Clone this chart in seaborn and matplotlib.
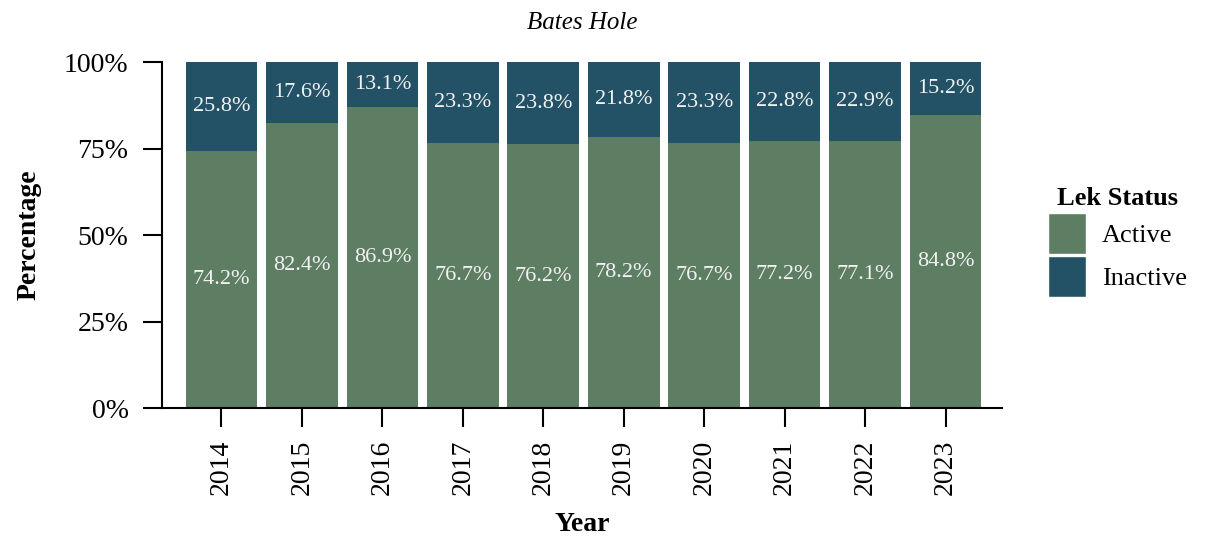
import pandas as pd
import seaborn as sns
import matplotlib.pyplot as plt
from matplotlib.patches import Patch
from matplotlib.ticker import PercentFormatter

years = ['2014', '2015', '2016', '2017', '2018', '2019', '2020', '2021', '2022', '2023']
active = [74.2, 82.4, 86.9, 76.7, 76.2, 78.2, 76.7, 77.2, 77.1, 84.8]
inactive = [25.8, 17.6, 13.1, 23.3, 23.8, 21.8, 23.3, 22.8, 22.9, 15.2]

ACTIVE_COL = '#5e7e64'
INACTIVE_COL = '#235266'

df = pd.DataFrame({'Year': years, 'Active': active, 'Inactive': inactive})
df['Total'] = df['Active'] + df['Inactive']

sns.set_style('ticks')
plt.rcParams['font.family'] = ['Liberation Serif', 'DejaVu Serif']
plt.rcParams['text.color'] = 'black'
plt.rcParams['axes.labelcolor'] = 'black'
plt.rcParams['xtick.color'] = 'black'
plt.rcParams['ytick.color'] = 'black'
plt.rcParams['axes.edgecolor'] = 'black'

fig = plt.figure(figsize=(12.05, 5.44), dpi=100)
ax = fig.add_axes([0.1344, 0.25, 0.697, 0.636])

# stacked bars: full height in inactive colour, active drawn over it
sns.barplot(data=df, x='Year', y='Total', color=INACTIVE_COL, saturation=1, width=0.89,
            linewidth=0, ax=ax)
sns.barplot(data=df, x='Year', y='Active', color=ACTIVE_COL, saturation=1, width=0.89,
            linewidth=0, ax=ax)

for i, row in df.iterrows():
    ax.text(i, row['Active'] / 2, f"{row['Active']:.1f}%", ha='center', va='center',
            color='#f2f2f2', fontsize=16)
    ax.text(i, row['Active'] + row['Inactive'] / 2, f"{row['Inactive']:.1f}%", ha='center',
            va='center', color='#f2f2f2', fontsize=16)

ax.set_ylim(0, 100)
ax.set_xlim(-0.74, 9.7)
ax.set_yticks([0, 25, 50, 75, 100])
ax.yaxis.set_major_formatter(PercentFormatter(decimals=0))
ax.tick_params(axis='both', length=14, width=1.5, labelsize=20)
ax.tick_params(axis='y', pad=10)
ax.tick_params(axis='x', labelrotation=90, pad=9)
for s in ['left', 'bottom']:
    ax.spines[s].set_linewidth(1.5)
sns.despine(ax=ax)

ax.set_title('Bates Hole', fontstyle='italic', fontsize=18, pad=24)
ax.set_xlabel('Year', fontweight='bold', fontsize=20, labelpad=12)
ax.set_ylabel('Percentage', fontweight='bold', fontsize=20, labelpad=16)

handles = [Patch(facecolor=ACTIVE_COL, label='Active'),
           Patch(facecolor=INACTIVE_COL, label='Inactive')]
leg = fig.legend(handles=handles, title='Lek Status', loc='center left',
                 bbox_to_anchor=(0.85, 0.555), frameon=False, fontsize=19,
                 title_fontproperties={'weight': 'bold', 'size': 19},
                 handlelength=1.45, handleheight=2.0, labelspacing=0.1,
                 handletextpad=0.6)

fig.savefig('out.png', dpi=100)
